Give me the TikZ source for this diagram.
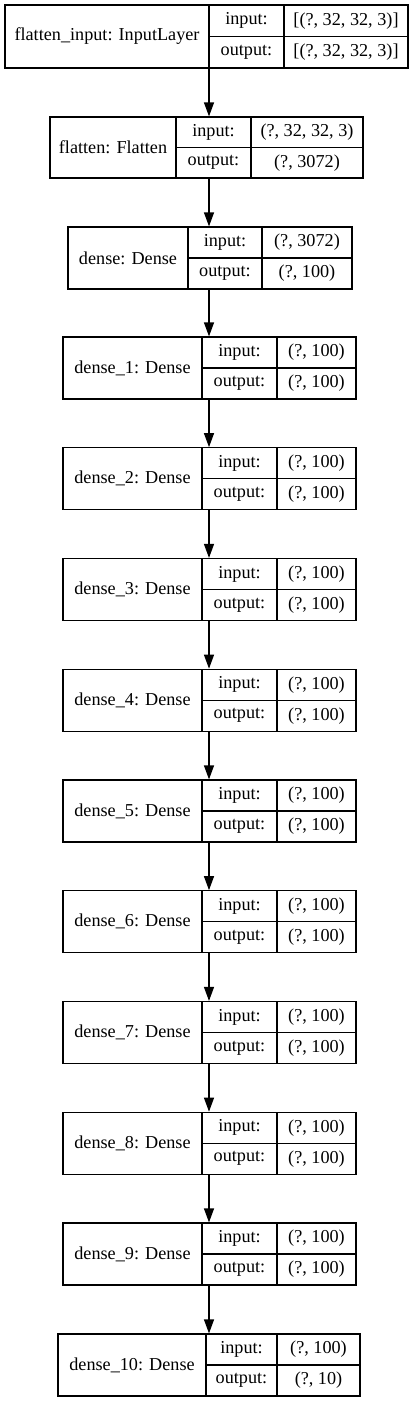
\documentclass[tikz,border=0pt]{standalone}
\usepackage{fontspec}
\setmainfont{Liberation Serif}
\usetikzlibrary{fit,arrows.meta}
\tikzset{
  boxline/.style={line width=1.2pt, draw=black},
  outer/.style={boxline, inner sep=0pt},
  txt/.style={inner sep=0pt, font=\fontsize{18.2}{21}\selectfont},
  arr/.style={line width=1.2pt, -{Triangle[length=14pt,width=10pt]}}
}
% #1 name, #2 top, #3 height, #4 left, #5 div1, #6 div2, #7 right, #8 label, #9 in/out
\newcommand\layerbox[9]{%
  \node[outer, fit={(#4,#2) (#7,{#2+#3})}] (#1) {};
  \draw[boxline] (#5,#2) -- (#5,{#2+#3});
  \draw[boxline] (#6,#2) -- (#6,{#2+#3});
  \draw[boxline] (#5,{#2+#3/2}) -- (#7,{#2+#3/2});
  \node[txt] (#1-name) at ({(#4+#5)/2},{#2+#3/2}) {#8};
  \node[txt] (#1-inl) at ({(#5+#6)/2},{#2+#3/4}) {input:};
  \node[txt] (#1-outl) at ({(#5+#6)/2},{#2+3*#3/4}) {output:};
  \layerio{#1}{#2}{#3}{#6}{#7}#9%
}
\newcommand\layerio[7]{%
  \node[txt] (#1-in) at ({(#4+#5)/2},{#2+#3/4}) {#6};
  \node[txt] (#1-out) at ({(#4+#5)/2},{#2+3*#3/4}) {#7};
}
\begin{document}
\begin{tikzpicture}[x=1pt,y=-1pt]
\useasboundingbox (0,0) rectangle (419,1401);
\coordinate (axis) at (209,0);
\layerbox{L0}{5}{63}{5}{209}{284}{408}{flatten\_input: InputLayer}{{[(?, 32, 32, 3)]}{[(?, 32, 32, 3)]}}
\layerbox{L1}{117}{61}{50}{176}{251}{363}{flatten: Flatten}{{(?, 32, 32, 3)}{(?, 3072)}}
\layerbox{L2}{227}{62}{68}{188}{262}{352}{dense: Dense}{{(?, 3072)}{(?, 100)}}
\foreach \k in {1,...,9}{
  \pgfmathsetmacro\tp{337+110.75*(\k-1)}
  \layerbox{D\k}{\tp}{62}{63}{202}{277}{356}{dense\_\k: Dense}{{(?, 100)}{(?, 100)}}
}
\layerbox{D10}{1334}{62}{58}{206}{277}{360}{dense\_10: Dense}{{(?, 100)}{(?, 10)}}
\draw[arr] (L0.south -| axis) -- (L1.north -| axis);
\draw[arr] (L1.south -| axis) -- (L2.north -| axis);
\draw[arr] (L2.south -| axis) -- (D1.north -| axis);
\foreach \a/\b in {D1/D2,D2/D3,D3/D4,D4/D5,D5/D6,D6/D7,D7/D8,D8/D9,D9/D10}{
  \draw[arr] (\a.south -| axis) -- (\b.north -| axis);
}
\end{tikzpicture}
\end{document}
